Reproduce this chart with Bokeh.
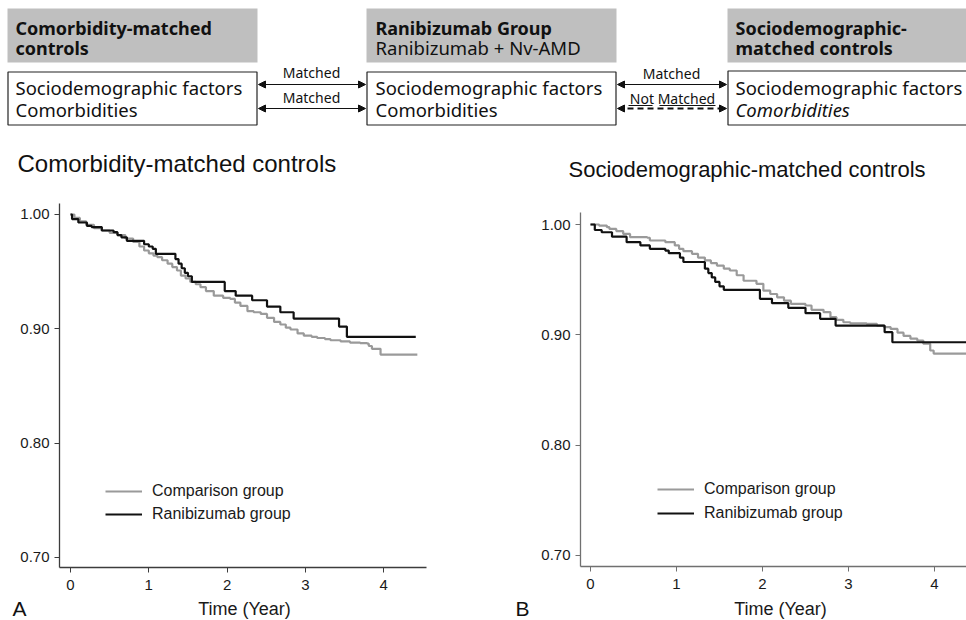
from bokeh.plotting import figure
from bokeh.models import (Range1d, FixedTicker, PrintfTickFormatter, Legend, LegendItem,
                          Arrow, NormalHead)
from bokeh.layouts import column, row
from bokeh.embed import file_html
from bokeh.resources import INLINE
from bokeh.core.properties import value

# ---------------- data ----------------
x_ticks = [0, 1, 2, 3, 4]
y_ticks = [0.70, 0.80, 0.90, 1.00]

# Panel A: comorbidity-matched controls
a_ranib_t = [0, 0.02, 0.10, 0.21, 0.27, 0.40, 0.55, 0.60, 0.65, 0.72, 0.94, 1.00, 1.05, 1.09,
             1.34, 1.38, 1.42, 1.46, 1.50, 1.55, 1.97, 2.11, 2.32, 2.51, 2.68, 2.85, 3.43,
             3.53, 4.41]
a_ranib_s = [1.000, 0.996, 0.993, 0.990, 0.989, 0.986, 0.9845, 0.982, 0.980, 0.977, 0.974,
             0.972, 0.970, 0.9656, 0.961, 0.957, 0.953, 0.949, 0.946, 0.941, 0.933, 0.929,
             0.925, 0.9195, 0.9145, 0.909, 0.902, 0.893, 0.893]
a_comp_t = [0, 0.05, 0.12, 0.20, 0.30, 0.40, 0.50, 0.60, 0.70, 0.80, 0.88, 0.94, 1.00, 1.06,
            1.11, 1.17, 1.24, 1.30, 1.36, 1.41, 1.47, 1.53, 1.60, 1.66, 1.73, 1.83, 1.95,
            2.04, 2.10, 2.17, 2.26, 2.34, 2.43, 2.51, 2.60, 2.68, 2.75, 2.81, 2.90, 2.98,
            3.08, 3.15, 3.25, 3.32, 3.45, 3.57, 3.70, 3.79, 3.81, 3.85, 3.96, 4.43]
a_comp_s = [1.000, 0.997, 0.994, 0.991, 0.988, 0.986, 0.984, 0.982, 0.979, 0.976, 0.972,
            0.9685, 0.966, 0.964, 0.9627, 0.960, 0.957, 0.954, 0.951, 0.9466, 0.944, 0.941,
            0.939, 0.9364, 0.933, 0.929, 0.927, 0.9262, 0.923, 0.920, 0.9154, 0.9145, 0.913,
            0.9096, 0.906, 0.9038, 0.901, 0.8994, 0.896, 0.894, 0.893, 0.892, 0.891, 0.890,
            0.889, 0.888, 0.8875, 0.887, 0.885, 0.8825, 0.8775, 0.8775]

# Panel B: sociodemographic-matched controls
b_ranib_t = [0, 0.05, 0.13, 0.25, 0.42, 0.58, 0.69, 0.87, 0.91, 1.04, 1.08, 1.33, 1.37, 1.41,
             1.45, 1.50, 1.55, 1.97, 2.11, 2.30, 2.50, 2.67, 2.85, 3.42, 3.51, 4.50]
b_ranib_s = [1.000, 0.995, 0.993, 0.989, 0.984, 0.981, 0.978, 0.9764, 0.974, 0.970, 0.966,
             0.960, 0.956, 0.952, 0.948, 0.944, 0.9408, 0.9326, 0.9287, 0.9245, 0.9196,
             0.9145, 0.9084, 0.9024, 0.8933, 0.8933]
b_comp_t = [0, 0.10, 0.19, 0.22, 0.30, 0.38, 0.46, 0.66, 0.69, 0.87, 0.98, 1.03, 1.08, 1.18,
            1.25, 1.33, 1.40, 1.47, 1.55, 1.62, 1.70, 1.78, 1.93, 2.01, 2.09, 2.17, 2.25,
            2.33, 2.50, 2.57, 2.71, 2.79, 2.86, 2.94, 3.02, 3.21, 3.33, 3.41, 3.49, 3.57,
            3.64, 3.72, 3.80, 3.87, 3.95, 3.99, 4.50]
b_comp_s = [1.000, 0.999, 0.9976, 0.996, 0.994, 0.9915, 0.9885, 0.988, 0.9855, 0.984, 0.981,
            0.978, 0.9758, 0.9734, 0.970, 0.9674, 0.965, 0.9628, 0.960, 0.9583, 0.954, 0.949,
            0.9462, 0.940, 0.937, 0.934, 0.931, 0.928, 0.9266, 0.9227, 0.9205, 0.916, 0.9136,
            0.9114, 0.9105, 0.910, 0.9084, 0.907, 0.9054, 0.902, 0.899, 0.8965, 0.8948,
            0.892, 0.8858, 0.883, 0.883]

legend_labels = ["Comparison group", "Ranibizumab group"]
panel_titles = ["Comorbidity-matched controls", "Sociodemographic-matched controls"]
panel_letters = ["A", "B"]
x_label = "Time (Year)"

header_bold = [["Comorbidity-matched", "controls"], ["Ranibizumab Group"],
               ["Sociodemographic-", "matched controls"]]
header_sub = ["Ranibizumab + Nv-AMD"]
box_line1 = "Sociodemographic factors"
box_line2 = "Comorbidities"

# ---------------- styles ----------------
DIAG_FONT = value("Noto Sans")
PLOT_FONT = "Liberation Sans"
GRAY_BOX = "#bfbfbf"
COMP_COLOR = "#9a9a9a"
RANIB_COLOR = "#111111"
INK = "#111111"


def blank_fig(width, height, xr, yr):
    f = figure(width=width, height=height, x_range=Range1d(*xr), y_range=Range1d(*yr),
               output_backend="svg", toolbar_location=None, min_border=0, title=None,
               x_axis_location=None, y_axis_location=None)
    f.grid.visible = False
    f.outline_line_color = None
    return f


# ---------------- diagram (top) ----------------
d = blank_fig(966, 185, (0, 966), (185, 0))

d.quad(left=[7, 366, 727], right=[257, 616, 990], top=[8, 8, 8], bottom=[62, 62, 62],
       fill_color=GRAY_BOX, line_color=None)
d.quad(left=[7.5, 366.5, 727.5], right=[256.5, 615.5, 995], top=[71.5, 71.5, 70.5],
       bottom=[124.5, 124.5, 124.5], fill_color="white", line_color="#222222", line_width=1.2)

bx = [15, 375, 735]
hx, hy, ht = [], [], []
for i, lines in enumerate(header_bold):
    for j, t in enumerate(lines):
        hx.append(bx[i]); hy.append(27 + 20 * j); ht.append(t)
d.text(x=hx, y=hy, text=ht, text_font=DIAG_FONT, text_font_size="18px",
       text_font_style="bold", text_baseline="middle", text_color=INK)
d.text(x=[375], y=[47], text=header_sub, text_font=DIAG_FONT, text_font_size="18.5px",
       text_baseline="middle", text_color=INK)
d.text(x=bx, y=[87, 87, 87], text=[box_line1] * 3, text_font=DIAG_FONT,
       text_font_size="18.5px", text_baseline="middle", text_color=INK)
d.text(x=bx[:2], y=[109, 109], text=[box_line2] * 2, text_font=DIAG_FONT,
       text_font_size="18.5px", text_baseline="middle", text_color=INK)
d.text(x=[bx[2]], y=[109], text=[box_line2], text_font=DIAG_FONT, text_font_size="18.5px",
       text_font_style="italic", text_baseline="middle", text_color=INK)

for (x0, x1, yy, dash, lw) in [(258, 365, 84, "solid", 1), (258, 365, 108, "solid", 1),
                               (617, 726, 84, "solid", 1), (617, 726, 108, "6 4", 2)]:
    d.add_layout(Arrow(x_start=x0, y_start=yy, x_end=x1, y_end=yy,
                       start=NormalHead(size=7, line_width=1, fill_color=INK, line_color=INK),
                       end=NormalHead(size=7, line_width=1, fill_color=INK, line_color=INK),
                       line_width=lw, line_dash=dash, line_color=INK))
d.text(x=[311, 311, 671], y=[72, 97, 73], text=["Matched", "Matched", "Matched"],
       text_font=DIAG_FONT, text_font_size="14px", text_align="center",
       text_baseline="middle", text_color=INK)
d.text(x=[672], y=[98], text=["Not Matched"], text_font=DIAG_FONT, text_font_size="14px",
       text_align="center", text_baseline="middle", text_color=INK)
d.segment(x0=[628, 659], y0=[105, 105], x1=[652, 715], y1=[105, 105],
          line_color=INK, line_width=1)

d.text(x=[17], y=[163], text=[panel_titles[0]], text_font=value(PLOT_FONT),
       text_font_size="24px", text_baseline="middle", text_color=INK)
d.text(x=[568], y=[169], text=[panel_titles[1]], text_font=value(PLOT_FONT),
       text_font_size="22px", text_baseline="middle", text_color=INK)


# ---------------- KM plots ----------------
def km_fig(width, mb, xr, yr, axis_color):
    p = figure(width=width, height=411, x_range=Range1d(*xr), y_range=Range1d(*yr),
               output_backend="svg", toolbar_location=None, title=None,
               min_border_left=mb[0], min_border_right=mb[1],
               min_border_top=mb[2], min_border_bottom=mb[3])
    p.frame_align = False
    p.grid.visible = False
    p.outline_line_color = None
    p.xaxis.ticker = FixedTicker(ticks=x_ticks)
    p.yaxis.ticker = FixedTicker(ticks=y_ticks)
    p.yaxis.formatter = PrintfTickFormatter(format="%.2f")
    for ax in (p.xaxis[0], p.yaxis[0]):
        ax.axis_line_color = axis_color
        ax.axis_line_width = 1.3
        ax.major_tick_line_color = axis_color
        ax.major_tick_in = 0
        ax.major_tick_out = 5
        ax.minor_tick_line_color = None
        ax.major_label_text_font = PLOT_FONT
        ax.major_label_text_font_size = "15px"
        ax.major_label_text_color = "#1a1a1a"
        ax.major_label_standoff = 5
    p.xaxis.major_label_standoff = 7
    return p


pa = km_fig(480, (59, 54, 18, 29), (-0.1405, 4.547), (0.69125, 1.00962), "#3c3c3c")
ra_c = pa.step(a_comp_t, a_comp_s, mode="after", line_color=COMP_COLOR, line_width=2.2)
ra_r = pa.step(a_ranib_t, a_ranib_s, mode="after", line_color=RANIB_COLOR, line_width=2.2)

pb = km_fig(486, (100, 0, 27, 30), (-0.1163, 4.372), (0.69003, 1.01088), "#707070")
rb_c = pb.step(b_comp_t, b_comp_s, mode="after", line_color=COMP_COLOR, line_width=2.2)
rb_r = pb.step(b_ranib_t, b_ranib_s, mode="after", line_color=RANIB_COLOR, line_width=2.2)

for p, rc, rr, loc, sp in [(pa, ra_c, ra_r, (46, 43), 3), (pb, rb_c, rb_r, (77, 43), 4)]:
    leg = Legend(items=[LegendItem(label=legend_labels[0], renderers=[rc]),
                        LegendItem(label=legend_labels[1], renderers=[rr])],
                 location=loc, border_line_color=None, background_fill_alpha=0,
                 padding=0, margin=0, spacing=sp, glyph_width=37, glyph_height=20,
                 label_height=20, label_standoff=10, label_text_font=PLOT_FONT,
                 label_text_font_size="16px", label_text_color="#1a1a1a")
    p.add_layout(leg)

# ---------------- bottom strip: axis titles and panel letters ----------------
s = blank_fig(966, 24, (0, 966), (620, 596))
s.text(x=[244, 780], y=[608, 608], text=[x_label, x_label], text_font=value(PLOT_FONT),
       text_font_size="18px", text_align="center", text_baseline="middle", text_color="#1a1a1a")
s.text(x=[12, 515], y=[607.5, 607.5], text=panel_letters, text_font=value(PLOT_FONT),
       text_font_size="21px", text_baseline="middle", text_color=INK)

layout = column(d, row(pa, pb), s)
open("out.html", "w").write(file_html(layout, INLINE))
